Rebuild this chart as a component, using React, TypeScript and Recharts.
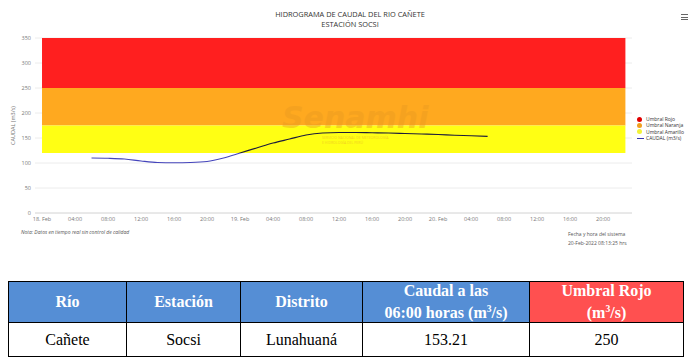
import React from "react";
import { LineChart, Line, XAxis, YAxis, CartesianGrid, ReferenceArea } from "recharts";

// caudal horario (horas desde 18-Feb 00:00)
const hours = [6, 8, 10, 12, 14, 16, 18, 20, 22, 24, 26, 28, 30, 32, 34, 36, 38, 40, 42, 44, 46, 48, 50, 52, 54];
const caudal = [110, 109.5, 108, 104, 101, 100.5, 101, 103, 110, 120, 130, 140, 148, 156, 160, 161, 161, 160.5, 160, 159, 158, 157, 155.5, 154.5, 153.21];

const xTicks = [0, 4, 8, 12, 16, 20, 24, 28, 32, 36, 40, 44, 48, 52, 56, 60, 64, 68];
const xTickLabels = [
  "18. Feb", "04:00", "08:00", "12:00", "16:00", "20:00",
  "19. Feb", "04:00", "08:00", "12:00", "16:00", "20:00",
  "20. Feb", "04:00", "08:00", "12:00", "16:00", "20:00",
];
const yTicks = [0, 50, 100, 150, 200, 250, 300, 350];

// umbrales
const bandNames = ["Umbral Rojo", "Umbral Naranja", "Umbral Amarillo"];
const bandFrom = [250, 175, 120];
const bandTo = [350, 250, 175];
const bandColors = ["#ff1f1f", "#ffa91f", "#ffff14"];
const legendDots = ["#e00000", "#f0a020", "#f2f238"];
const bandStart = 0;
const bandEnd = 70.7;

// tabla
const tableHeaders = ["Río", "Estación", "Distrito", "Caudal a las|06:00 horas (m3/s)", "Umbral Rojo|(m3/s)"];
const tableRow = ["Cañete", "Socsi", "Lunahuaná", "153.21", "250"];
const colWidths = [118, 114, 122, 167, 154];

const data = hours.map((h, i) => ({ h, caudal: caudal[i] }));

const cMax = Math.max(...caudal);
const cMin = Math.min(...caudal);
const zoneOffset = ((cMax - bandFrom[2]) / (cMax - cMin)) * 100;

const font = "'Open Sans', 'DejaVu Sans', sans-serif";

function m3(text: string) {
  // pinta el superíndice de m3
  const parts = text.split("m3");
  if (parts.length === 1) return text;
  return (
    <>
      {parts[0]}m<sup style={{ fontSize: "0.6em" }}>3</sup>{parts[1]}
    </>
  );
}

function LegendBox() {
  return (
    <div style={{ fontFamily: font, fontSize: 5, color: "#333", lineHeight: "6.4px" }}>
      {bandNames.map((n, i) => (
        <div key={n} style={{ display: "flex", alignItems: "center", height: 6.4 }}>
          <span style={{ width: 5, height: 5, borderRadius: 3, background: legendDots[i], marginRight: 4 }} />
          {n}
        </div>
      ))}
      <div style={{ display: "flex", alignItems: "center", height: 6.4 }}>
        <span style={{ width: 7, height: 1.2, background: "#3535b0", marginRight: 2 }} />
        CAUDAL (m3/s)
      </div>
    </div>
  );
}

export default function App() {
  return (
    <div style={{ position: "absolute", left: 0, top: 0, width: 695, height: 361, background: "#fff", overflow: "hidden" }}>
      <div style={{ position: "absolute", left: 0, top: 10, width: 700, textAlign: "center", fontFamily: font, fontSize: 7.4, color: "#333", lineHeight: "9.5px" }}>
        HIDROGRAMA DE CAUDAL DEL RIO CAÑETE
        <br />
        ESTACIÓN SOCSI
      </div>
      <div style={{ position: "absolute", left: 681, top: 14 }}>
        {[0, 1, 2].map((k) => (
          <div key={k} style={{ width: 7, height: 1, background: "#666", marginBottom: 1.5 }} />
        ))}
      </div>

      <div style={{ position: "absolute", left: 0, top: 0 }}>
        <LineChart width={695} height={260} data={data} margin={{ top: 38, right: 63, bottom: 27, left: 0 }}>
          <defs>
            <linearGradient id="zonas" x1="0" y1="0" x2="0" y2="1">
              <stop offset={`${zoneOffset}%`} stopColor="#1c1c3a" />
              <stop offset={`${zoneOffset}%`} stopColor="#4444bb" />
            </linearGradient>
          </defs>
          <CartesianGrid vertical={false} stroke="#ececec" />
          <XAxis
            dataKey="h"
            type="number"
            domain={[-0.85, 71.5]}
            ticks={xTicks}
            tickFormatter={(v: number) => xTickLabels[xTicks.indexOf(v)]}
            tickLine={false}
            tickSize={0}
            tickMargin={4}
            height={20}
            axisLine={{ stroke: "#dcdcdc" }}
            tick={{ fontSize: 5.5, fill: "#777", fontFamily: font }}
          />
          <YAxis
            domain={[0, 350]}
            ticks={yTicks}
            width={35}
            tickLine={false}
            axisLine={false}
            tickSize={0}
            tickMargin={4}
            tick={{ fontSize: 5.5, fill: "#777", fontFamily: font }}
            label={{ value: "CAUDAL (m3/s)", angle: -90, position: "insideLeft", offset: 13, style: { fontSize: 5.5, fill: "#777", fontFamily: font, textAnchor: "middle" } }}
          />
          {bandNames.map((n, i) => (
            <ReferenceArea key={n} x1={bandStart} x2={bandEnd} y1={bandFrom[i]} y2={bandTo[i]} fill={bandColors[i]} fillOpacity={1} stroke="none" />
          ))}
          <Line type="monotone" dataKey="caudal" stroke="url(#zonas)" strokeWidth={1.2} dot={false} isAnimationActive={false} />
        </LineChart>
      </div>

      <div style={{ position: "absolute", left: 637, top: 116 }}>
        <LegendBox />
      </div>

      {/* marca de agua */}
      <div style={{ position: "absolute", left: 282, top: 100, fontFamily: "'DejaVu Sans', sans-serif", fontWeight: 700, fontStyle: "italic", fontSize: 30, color: "#e89a20", opacity: 0.4, pointerEvents: "none" }}>
        Senamhi
      </div>
      <div style={{ position: "absolute", left: 322, top: 135, fontFamily: font, fontSize: 3.5, color: "#e8a030", opacity: 0.5, lineHeight: "5px" }}>
        SERVICIO NACIONAL DE METEOROLOGÍA
        <br />
        E HIDROLOGÍA DEL PERÚ
      </div>

      <div style={{ position: "absolute", left: 21, top: 229, fontFamily: font, fontStyle: "italic", fontSize: 5, color: "#555" }}>
        Nota: Datos en tiempo real sin control de calidad
      </div>
      <div style={{ position: "absolute", left: 568, top: 230, fontFamily: font, fontSize: 5, color: "#555", lineHeight: "9px" }}>
        Fecha y hora del sistema
        <br />
        20-Feb-2022 08:13:25 hrs
      </div>

      <table
        style={{
          position: "absolute",
          left: 8,
          top: 281,
          borderCollapse: "collapse",
          fontFamily: "'Liberation Serif', serif",
          fontSize: 16,
          tableLayout: "fixed",
          width: 675,
        }}
      >
        <colgroup>
          {colWidths.map((w, i) => (
            <col key={i} style={{ width: w }} />
          ))}
        </colgroup>
        <tbody>
          <tr style={{ height: 41 }}>
            {tableHeaders.map((h, i) => (
              <td
                key={h}
                style={{
                  border: "1px solid #000",
                  background: i === 4 ? "#ff5050" : "#558ed5",
                  color: "#fff",
                  fontWeight: 700,
                  textAlign: "center",
                  padding: 0,
                  lineHeight: "18px",
                }}
              >
                {h.split("|").map((line, k) => (
                  <div key={k}>{m3(line)}</div>
                ))}
              </td>
            ))}
          </tr>
          <tr style={{ height: 34 }}>
            {tableRow.map((v, i) => (
              <td key={i} style={{ border: "1px solid #000", textAlign: "center", padding: 0, color: "#000" }}>
                {v}
              </td>
            ))}
          </tr>
        </tbody>
      </table>
    </div>
  );
}
